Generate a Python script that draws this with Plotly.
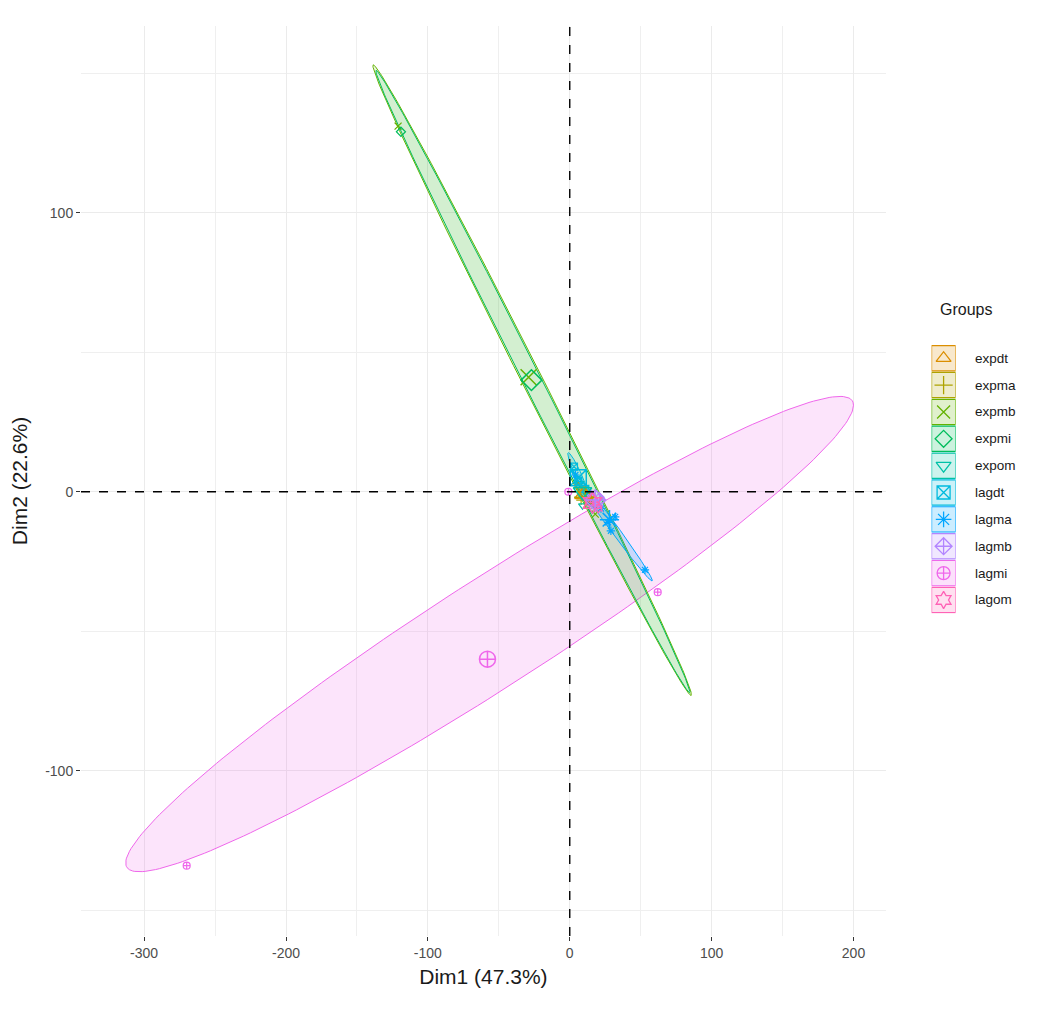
import numpy as np
import plotly.graph_objects as go

# ---------------- data ----------------
groups = ["expdt", "expma", "expmb", "expmi", "expom", "lagdt", "lagma", "lagmb", "lagmi", "lagom"]
colors = ["#DB8E00", "#AEA200", "#64B200", "#00BD5C", "#00C1A7", "#00BADE", "#00A6FF", "#B385FF", "#EF67EB", "#FF63B6"]
symbols = ["triangle-up-open", "cross-thin-open", "x-thin-open", "diamond-open", "triangle-down-open",
           "square-x-open", "asterisk-open", "diamond-cross-open", "circle-cross-open", "hexagram-open"]

# individual points
pt_group = ["expdt", "expdt", "expdt", "expma", "expma", "expma", "expmb", "expmb", "expmb",
            "expmi", "expmi", "expmi", "expom", "expom", "expom", "lagdt", "lagdt", "lagdt",
            "lagma", "lagma", "lagma", "lagma", "lagma", "lagma", "lagmb", "lagmb", "lagmb",
            "lagmi", "lagmi", "lagmi", "lagom", "lagom", "lagom"]
pt_x = [9, 13, 6, 11, 8, 14, -121, 15, 18,
        -119, 13, 16, 7, 12, 9, 3, 6, 11,
        53, 27, 32, 29, 22, 4, 18, 21, 15,
        -270, 62, -1, 17, 20, 14]
pt_y = [-1, -4, 2, 0, -3, -2, 131, -5, -8,
        129, -3, -6, 3, -1, -5, 9, 4, 1,
        -28, -11, -9, -14, -6, 6, -5, -2, -1,
        -134, -36, 0, -3, -6, -4]

# group mean points
mean_x = [10, 11, -29, -27, 9, 6, 28, 18, -58, 16]
mean_y = [-1, -2, 41, 40, 0, 5, -10, -3, -60, -4]

# confidence ellipses: centre, semi-major vector, conjugate semi-diameter, fill alpha
ell_group = ["lagmi", "expmb", "expmi", "lagma", "lagdt", "expdt", "expma", "expom", "lagmb", "lagom"]
ell_cx = [-56.5, -26.5, -26, 29.5, 6, 10, 11, 9, 18, 16]
ell_cy = [-51, 40, 39.5, -12, 6, -1, -2, 0, -3, -4]
ell_ux = [256.5, -112, -110.5, 28.5, -7, 6, 5, 5, 5, 5]
ell_uy = [82, 113, 111.5, -20, 8, -4, -3, -4, -3, -3]
ell_vx = [0, 8, 7, 3.5, 2.5, 2, 2, 2, 2, 2]
ell_vy = [23, 0, 0, 0, 0, 0, 0, 0, 0, 0]
ell_alpha = [0.18, 0.13, 0.1, 0.2, 0.2, 0.2, 0.2, 0.2, 0.2, 0.2]

x_title = "Dim1 (47.3%)"
y_title = "Dim2 (22.6%)"
legend_title = "Groups"
x_ticks = [-300, -200, -100, 0, 100, 200]
x_ticktext = ["-300", "-200", "-100", "0", "100", "200"]
y_ticks = [-100, 0, 100]
y_ticktext = ["-100", "0", "100"]


def rgba(hexc, a):
    h = hexc.lstrip("#")
    return "rgba(%d,%d,%d,%.2f)" % (int(h[0:2], 16), int(h[2:4], 16), int(h[4:6], 16), a)


col_of = dict(zip(groups, colors))
sym_of = dict(zip(groups, symbols))

fig = go.Figure()

t = np.linspace(0, 2 * np.pi, 240)
for g, cx, cy, ux, uy, vx, vy, a in zip(ell_group, ell_cx, ell_cy, ell_ux, ell_uy, ell_vx, ell_vy, ell_alpha):
    ex = cx + ux * np.cos(t) + vx * np.sin(t)
    ey = cy + uy * np.cos(t) + vy * np.sin(t)
    fig.add_trace(go.Scatter(x=ex, y=ey, mode="lines", fill="toself",
                             fillcolor=rgba(col_of[g], a),
                             line=dict(color=col_of[g], width=1),
                             showlegend=False, hoverinfo="skip"))

pt_group_arr = np.array(pt_group)
pt_x_arr = np.array(pt_x)
pt_y_arr = np.array(pt_y)
for g in groups:
    m = pt_group_arr == g
    fig.add_trace(go.Scatter(x=pt_x_arr[m], y=pt_y_arr[m], mode="markers", name=g,
                             marker=dict(symbol=sym_of[g], size=7, color=col_of[g],
                                         line=dict(color=col_of[g], width=1.2)),
                             showlegend=False))

for g, mx, my in zip(groups, mean_x, mean_y):
    fig.add_trace(go.Scatter(x=[mx], y=[my], mode="markers", name=g,
                             marker=dict(symbol=sym_of[g], size=16, color=col_of[g],
                                         line=dict(color=col_of[g], width=1.5)),
                             showlegend=False))

fig.add_hline(y=0, line=dict(color="black", dash="dash", width=1.4))
fig.add_vline(x=0, line=dict(color="black", dash="dash", width=1.4))

# ---------- ggplot style legend drawn on its own small axes ----------
idx = list(range(len(groups)))
for i, g in zip(idx, groups):
    fig.add_shape(type="rect", xref="x2", yref="y2", x0=0, x1=1, y0=i - 0.47, y1=i + 0.47,
                  fillcolor=rgba(col_of[g], 0.2), line=dict(color=col_of[g], width=1.2), layer="below")
    fig.add_annotation(xref="paper", yref="y2", x=0.9324, y=i, text=g, showarrow=False,
                       xanchor="left", yanchor="middle", font=dict(size=13.5, color="#1A1A1A"))
fig.add_trace(go.Scatter(x=[0.5] * len(groups), y=idx, xaxis="x2", yaxis="y2", mode="markers",
                         marker=dict(symbol=symbols, size=13, color=colors,
                                     line=dict(color=colors, width=1.3)),
                         showlegend=False, hoverinfo="skip"))
fig.add_annotation(xref="paper", yref="paper", x=0.8955, y=0.688, text=legend_title, showarrow=False,
                   xanchor="left", yanchor="middle", font=dict(size=16, color="#1A1A1A"))

axis_common = dict(showline=False, zeroline=False, ticks="outside", ticklen=4, tickwidth=1.2,
                   tickcolor="#333333", gridcolor="#EBEBEB", gridwidth=1,
                   tickfont=dict(size=14, color="#4D4D4D"),
                   minor=dict(dtick=50, tick0=0, showgrid=True, gridcolor="#EFEFEF", gridwidth=0.7, ticks=""))

fig.update_layout(
    width=1040, height=1023,
    margin=dict(l=73, r=10, t=18, b=95),
    paper_bgcolor="white", plot_bgcolor="white",
    font=dict(family="Liberation Sans, Arial, sans-serif"),
    showlegend=False,
    xaxis=dict(axis_common, domain=[0, 0.841], range=[-344.5, 222.8], tickvals=x_ticks, ticktext=x_ticktext,
               title=dict(text=x_title, font=dict(size=21, color="#1A1A1A"), standoff=9)),
    yaxis=dict(axis_common, range=[-159.2, 166.9], tickvals=y_ticks, ticktext=y_ticktext,
               title=dict(text=y_title, font=dict(size=21, color="#1A1A1A"), standoff=12)),
    xaxis2=dict(domain=[0.8888, 0.9139], range=[0, 1], visible=False, anchor="y2", fixedrange=True),
    yaxis2=dict(domain=[0.3545, 0.6497], range=[9.5, -0.5], visible=False, anchor="x2", fixedrange=True),
)

fig.write_html("out.html")
